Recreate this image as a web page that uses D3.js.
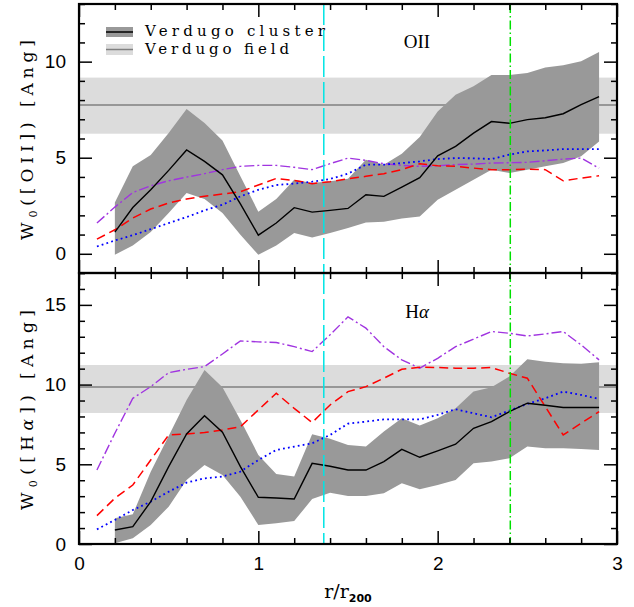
<!DOCTYPE html>
<html><head><meta charset="utf-8">
<script src="https://cdn.jsdelivr.net/npm/d3@7/dist/d3.min.js"></script>
<style>body{margin:0;background:#fff}svg{display:block}</style>
</head><body>
<svg id="c" width="634" height="607"></svg>
<script>
// ---------- data ----------
const rAll = [0.1,0.2,0.3,0.4,0.5,0.6,0.7,0.8,0.9,1.0,1.1,1.2,1.3,1.4,1.5,1.6,1.7,1.8,1.9,2.0,2.1,2.2,2.3,2.4,2.5,2.6,2.7,2.8,2.9];
const rCluster = [0.2,0.3,0.4,0.5,0.6,0.7,0.8,0.9,1.0,1.1,1.2,1.3,1.4,1.5,1.6,1.7,1.8,1.9,2.0,2.1,2.2,2.3,2.4,2.5,2.6,2.7,2.8,2.9];

const oiiClusterMed = [1.13,2.41,3.33,4.34,5.40,4.81,4.11,2.6,0.97,1.6,2.40,2.17,2.26,2.36,3.07,2.99,3.47,3.96,5.10,5.59,6.28,6.88,6.79,6.98,7.08,7.29,7.76,8.18];
const oiiClusterHi  = [2.67,4.55,5.14,6.28,7.53,6.81,5.90,4.03,2.19,2.85,3.85,3.68,3.77,3.90,4.90,4.64,5.21,6.08,7.41,8.28,8.72,9.31,9.31,9.41,9.69,9.81,10.02,10.50];
const oiiClusterLo  = [-0.05,0.43,1.13,2.12,3.16,2.85,2.12,0.99,-0.05,0.43,1.08,0.85,1.08,1.34,1.63,1.67,1.84,1.94,2.81,3.33,3.85,4.38,4.20,4.38,4.55,4.72,5.07,5.85];
const oiiRed    = [0.76,1.25,1.86,2.33,2.64,2.85,2.99,3.11,3.23,3.58,3.92,3.82,3.65,3.75,3.90,4.03,4.17,4.38,4.69,4.58,4.55,4.46,4.38,4.38,4.41,4.38,3.80,3.94,4.06];
const oiiBlue   = [0.38,0.69,0.97,1.28,1.60,1.91,2.26,2.55,2.99,3.33,3.58,3.65,3.75,3.89,4.17,4.64,4.64,4.72,4.81,4.93,4.98,4.97,4.93,5.16,5.33,5.38,5.45,5.45,5.45];
const oiiPurple = [1.60,2.43,3.19,3.54,3.80,3.99,4.17,4.38,4.55,4.60,4.60,4.50,4.38,4.69,4.98,4.86,4.69,4.60,4.55,4.58,4.64,4.67,4.72,4.74,4.76,4.84,4.93,4.98,4.46];
const oiiField = [7.75, 6.25, 9.17]; // median, low, high

const haClusterMed = [0.88,1.09,2.66,4.85,6.90,8.05,7.01,4.85,2.93,2.89,2.82,5.06,4.88,4.64,4.64,5.17,5.94,5.44,5.84,6.26,7.26,7.68,8.31,8.83,8.70,8.56,8.56,8.56];
const haClusterHi  = [1.61,1.86,4.54,6.78,9.04,10.92,9.83,7.78,5.59,4.39,4.23,6.88,6.60,6.21,6.11,7.05,7.89,7.43,7.89,8.51,9.56,9.83,10.50,11.59,11.44,11.34,11.30,11.40];
const haClusterLo  = [0.04,0.36,1.19,2.34,4.02,4.96,4.33,2.97,1.19,1.30,1.44,2.82,3.22,3.01,3.01,3.18,3.81,3.43,3.70,4.02,5.06,5.17,5.38,6.11,6.00,6.00,5.96,5.90];
const haRed    = [1.78,2.87,3.70,5.27,6.84,6.90,6.99,7.15,7.36,8.41,9.46,8.51,7.62,8.72,9.56,9.87,10.40,10.96,11.09,11.07,11.03,11.03,11.07,10.71,10.40,8.62,6.84,7.57,8.31];
const haBlue   = [0.92,1.51,2.13,2.66,3.28,3.85,4.12,4.23,4.54,5.27,5.90,6.11,6.32,6.84,7.55,7.68,7.82,7.82,7.82,8.10,8.45,8.20,7.95,8.37,8.79,9.14,9.56,9.35,9.10];
const haPurple = [4.64,6.95,9.14,9.87,10.75,10.96,11.13,11.92,12.74,12.68,12.64,12.38,12.07,13.12,14.25,13.54,12.38,11.55,11.03,11.65,12.38,12.85,13.33,13.22,13.05,13.18,13.33,12.49,11.55];
const haField = [9.85, 8.22, 11.23];

const vLines = [1.365, 2.405];
const xMajor = [0,1,2,3];
const xTickLabels = ["0","1","2","3"];
const oiiYMajor = [0,5,10];
const haYMajor = [0,5,10,15];
const legendLabels = ["Verdugo cluster","Verdugo field"];
const panelLabels = ["OII","Hα"];

// ---------- drawing ----------
const svg = d3.select('#c');
const L = 79, R = 617;
const x = d3.scaleLinear([0,3],[L,R]);
const xMinor = d3.range(0,3.0001,0.2).map(v=>+v.toFixed(1)).filter(v=>Math.abs(v-Math.round(v))>1e-6);

const panels = [
  {top:4, bot:273, y:d3.scaleLinear([-1,13],[273,4]), major:oiiYMajor, minorDom:[-1,13],
   med:oiiClusterMed, hi:oiiClusterHi, lo:oiiClusterLo, red:oiiRed, blue:oiiBlue, purple:oiiPurple, field:oiiField, showX:false},
  {top:273, bot:544, y:d3.scaleLinear([0,17],[544,273]), major:haYMajor, minorDom:[0,17],
   med:haClusterMed, hi:haClusterHi, lo:haClusterLo, red:haRed, blue:haBlue, purple:haPurple, field:haField, showX:true}
];

const defs = svg.append('defs');

panels.forEach((p,i)=>{
  const y = p.y;
  defs.append('clipPath').attr('id','clip'+i).append('rect')
    .attr('x',L).attr('y',p.top).attr('width',R-L).attr('height',p.bot-p.top);
  const g = svg.append('g').attr('clip-path',`url(#clip${i})`);

  g.append('rect').attr('x',L).attr('width',R-L)
    .attr('y',y(p.field[2])).attr('height',y(p.field[1])-y(p.field[2]))
    .attr('fill','#dcdcdc');
  g.append('line').attr('x1',L).attr('x2',R).attr('y1',y(p.field[0])).attr('y2',y(p.field[0]))
    .attr('stroke','#808080').attr('stroke-width',1.5);

  const area = d3.area().x((d,j)=>x(rCluster[j])).y0((d,j)=>y(p.lo[j])).y1((d,j)=>y(p.hi[j]));
  g.append('path').attr('d',area(p.med)).attr('fill','#999999');

  const lineC = d3.line().x((d,j)=>x(rCluster[j])).y(d=>y(d));
  const lineA = d3.line().x((d,j)=>x(rAll[j])).y(d=>y(d));

  g.append('path').attr('d',lineA(p.purple)).attr('fill','none').attr('stroke','#a034e0')
    .attr('stroke-width',1.4).attr('stroke-dasharray','10,3,2,3');
  g.append('path').attr('d',lineA(p.red)).attr('fill','none').attr('stroke','#ff0000')
    .attr('stroke-width',1.5).attr('stroke-dasharray','9,5');
  g.append('path').attr('d',lineA(p.blue)).attr('fill','none').attr('stroke','#0000ff')
    .attr('stroke-width',1.8).attr('stroke-dasharray','1.8,3.2');
  g.append('path').attr('d',lineC(p.med)).attr('fill','none').attr('stroke','#000')
    .attr('stroke-width',1.4);

  g.append('line').attr('x1',x(vLines[0])).attr('x2',x(vLines[0])).attr('y1',p.top).attr('y2',p.bot)
    .attr('stroke','#00e5e5').attr('stroke-width',1.5).attr('stroke-dasharray','21,5');
  g.append('line').attr('x1',x(vLines[1])).attr('x2',x(vLines[1])).attr('y1',p.top).attr('y2',p.bot)
    .attr('stroke','#00e000').attr('stroke-width',1.5).attr('stroke-dasharray','9,3,1.5,3');

  const yMinor = d3.range(p.minorDom[0], p.minorDom[1]+0.001, 1).filter(v=>v%5!==0);
  const styleAx = sel => { sel.select('.domain').remove(); sel.selectAll('line').attr('stroke','#000').attr('stroke-width',1.5); };
  svg.append('g').attr('transform',`translate(${L},0)`)
    .call(d3.axisLeft(y).tickValues(p.major).tickSize(-13).tickPadding(13))
    .call(styleAx)
    .call(s=>s.selectAll('text').attr('font-family','Liberation Sans, Arial, sans-serif').attr('font-size',19).attr('fill','#000'));
  svg.append('g').attr('transform',`translate(${L},0)`)
    .call(d3.axisLeft(y).tickValues(yMinor).tickSize(-6).tickFormat('')).call(styleAx);
  svg.append('g').attr('transform',`translate(${R},0)`)
    .call(d3.axisRight(y).tickValues(p.major).tickSize(-13).tickFormat('')).call(styleAx);
  svg.append('g').attr('transform',`translate(${R},0)`)
    .call(d3.axisRight(y).tickValues(yMinor).tickSize(-6).tickFormat('')).call(styleAx);
  svg.append('g').attr('transform',`translate(0,${p.top})`)
    .call(d3.axisTop(x).tickValues(xMajor).tickSize(-13).tickFormat('')).call(styleAx);
  svg.append('g').attr('transform',`translate(0,${p.top})`)
    .call(d3.axisTop(x).tickValues(xMinor).tickSize(-6).tickFormat('')).call(styleAx);
  const bx = svg.append('g').attr('transform',`translate(0,${p.bot})`)
    .call(d3.axisBottom(x).tickValues(xMajor).tickSize(-13).tickPadding(13)
      .tickFormat((d,j)=> p.showX ? xTickLabels[j] : ''))
    .call(styleAx);
  bx.selectAll('text').attr('font-family','Liberation Sans, Arial, sans-serif').attr('font-size',19).attr('fill','#000');
  svg.append('g').attr('transform',`translate(0,${p.bot})`)
    .call(d3.axisBottom(x).tickValues(xMinor).tickSize(-6).tickFormat('')).call(styleAx);

  svg.append('rect').attr('x',L).attr('y',p.top).attr('width',R-L).attr('height',p.bot-p.top)
    .attr('fill','none').attr('stroke','#000').attr('stroke-width',2.2);
});

// panel labels
svg.append('text').attr('x',417).attr('y',48).attr('text-anchor','middle')
  .attr('font-family','Liberation Serif, Times New Roman, serif').attr('font-size',19).text(panelLabels[0]);
const ha = svg.append('text').attr('x',417).attr('y',318).attr('text-anchor','middle')
  .attr('font-family','Liberation Serif, Times New Roman, serif').attr('font-size',19);
ha.append('tspan').text('H');
ha.append('tspan').attr('font-style','italic').text('α');

// legend
svg.append('rect').attr('x',106).attr('y',27).attr('width',27).attr('height',10).attr('fill','#999999');
svg.append('line').attr('x1',106).attr('x2',133).attr('y1',32).attr('y2',32).attr('stroke','#000').attr('stroke-width',1.5);
svg.append('rect').attr('x',106).attr('y',44).attr('width',27).attr('height',11).attr('fill','#dcdcdc');
svg.append('line').attr('x1',106).attr('x2',133).attr('y1',49.5).attr('y2',49.5).attr('stroke','#808080').attr('stroke-width',1.5);
svg.append('text').attr('x',145).attr('y',36).attr('font-family','DejaVu Serif, serif').attr('font-size',15)
  .attr('textLength',180).attr('lengthAdjust','spacing').text(legendLabels[0]);
svg.append('text').attr('x',145).attr('y',54).attr('font-family','DejaVu Serif, serif').attr('font-size',15)
  .attr('textLength',144).attr('lengthAdjust','spacing').text(legendLabels[1]);

// y-axis labels
function yLabel(cy, species){
  const t = svg.append('text').attr('transform',`translate(33,${cy}) rotate(-90)`).attr('text-anchor','middle')
    .attr('font-family','DejaVu Serif, serif').attr('font-size',17)
    .attr('textLength',200).attr('lengthAdjust','spacing');
  t.append('tspan').text('W');
  t.append('tspan').attr('font-size',11).attr('dy',4).text('0');
  t.append('tspan').attr('dy',-4).text('([');
  species(t);
  t.append('tspan').text(']) [Ang]');
}
yLabel(140, t=>t.append('tspan').text('OII'));
yLabel(410, t=>{ t.append('tspan').text('H'); t.append('tspan').attr('font-style','italic').text('α'); });

// x-axis label
const xl = svg.append('text').attr('x',348).attr('y',598).attr('text-anchor','middle')
  .attr('font-family','DejaVu Serif, serif').attr('font-size',19);
xl.append('tspan').text('r/r');
xl.append('tspan').attr('font-family','DejaVu Sans, sans-serif').attr('font-weight','bold').attr('font-size',11).attr('dy',4).text('200');
</script>
</body></html>
